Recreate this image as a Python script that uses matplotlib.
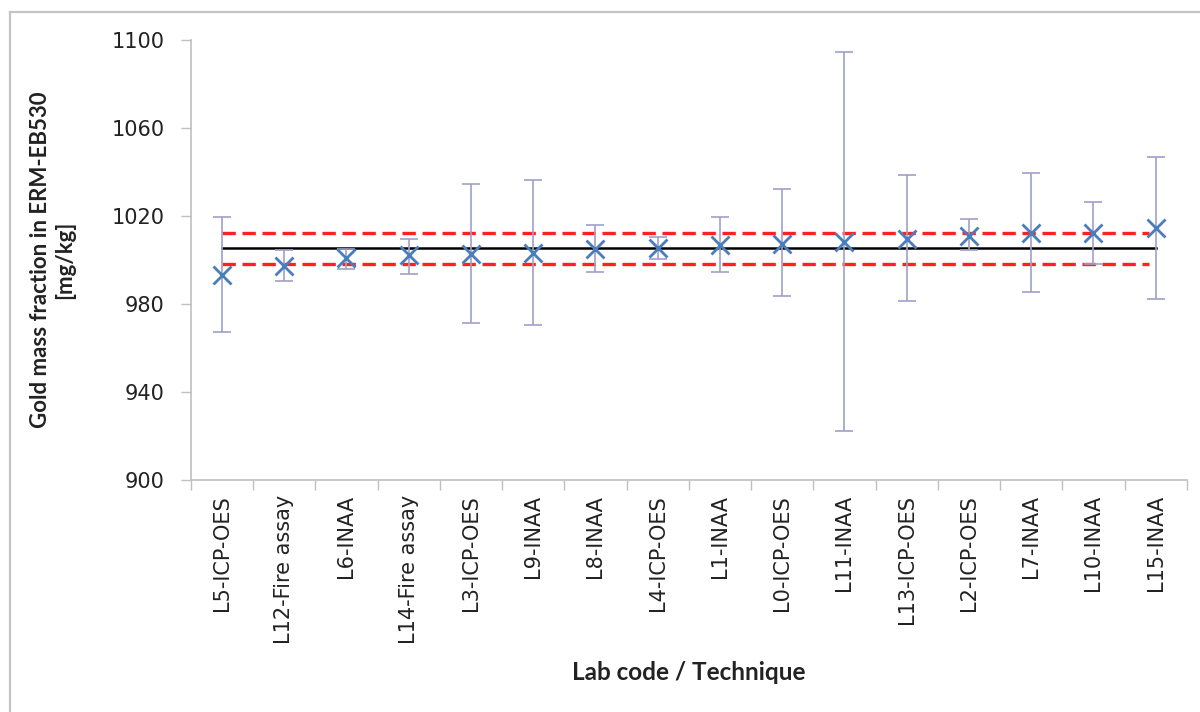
import matplotlib
matplotlib.use("Agg")
import matplotlib.pyplot as plt
from matplotlib.lines import Line2D
import numpy as np

# lab codes and results
labs = ["L5-ICP-OES", "L12-Fire assay", "L6-INAA", "L14-Fire assay", "L3-ICP-OES",
        "L9-INAA", "L8-INAA", "L4-ICP-OES", "L1-INAA", "L0-ICP-OES", "L11-INAA",
        "L13-ICP-OES", "L2-ICP-OES", "L7-INAA", "L10-INAA", "L15-INAA"]
values = [993.2, 997.3, 1001.0, 1002.0, 1002.6, 1003.3, 1004.8, 1005.3,
          1006.8, 1007.3, 1007.9, 1009.4, 1010.9, 1012.1, 1012.4, 1014.4]
upper = [1019.4, 1004.5, 1005.0, 1009.5, 1034.5, 1036.5, 1015.9, 1010.3,
         1019.4, 1032.1, 1094.7, 1038.5, 1018.5, 1039.7, 1026.5, 1046.8]
lower = [967.4, 990.2, 996.0, 993.5, 971.2, 970.5, 994.4, 1000.3,
         994.7, 983.8, 922.0, 981.4, 1004.5, 985.3, 998.0, 982.4]

ref_value = 1005.2
ref_low = 998.3
ref_high = 1012.1

x = np.arange(len(labs))
vals = np.array(values)
yerr = [vals - np.array(lower), np.array(upper) - vals]

fig = plt.figure(figsize=(12, 7.12), dpi=100)
ax = fig.add_axes([0.159, 0.326, 0.83, 0.618])

# outer frame (only left and top visible)
fig.add_artist(Line2D([10/1200, 10/1200], [0, 1 - 12/712], color="#c4c4c4", lw=1.6))
fig.add_artist(Line2D([10/1200, 1], [1 - 12/712, 1 - 12/712], color="#c4c4c4", lw=1.6))

# reference value and uncertainty band
ax.plot([x[0], x[-1]], [ref_value, ref_value], color="black", lw=1.8, zorder=2)
for v in (ref_low, ref_high):
    ax.plot([x[0], x[-1] - 0.1], [v, v], color="#ff2020", lw=2.4, dashes=(4, 2), zorder=3)

ax.errorbar(x, vals, yerr=yerr, fmt="none", ecolor="#a0a0c8", elinewidth=1.2,
            capsize=6.5, capthick=1.2, zorder=4)
ax.plot(x, vals, linestyle="none", marker="x", markersize=13, mew=2,
        color="#4a7ebb", zorder=5)

ax.set_xlim(-0.5, len(labs) - 0.5)
ax.set_ylim(900, 1100)
ax.set_yticks(np.arange(900, 1101, 40))
ax.set_xticks(x)
ax.set_xticklabels(labs, rotation=90, fontsize=15, color="#222222",
                   family="DejaVu Sans")
ax.set_xticks(np.arange(-0.5, len(labs), 1), minor=True)
ax.tick_params(axis="x", which="major", length=0, pad=11)
ax.tick_params(axis="x", which="minor", length=7, color="#bfbfbf", width=1)
ax.tick_params(axis="y", length=7, color="#bfbfbf", width=1, pad=12,
               labelsize=15, labelcolor="#222222")

for s in ("top", "right"):
    ax.spines[s].set_visible(False)
for s in ("left", "bottom"):
    ax.spines[s].set_color("#bfbfbf")
    ax.spines[s].set_linewidth(1.2)

ax.set_ylabel("Gold mass fraction in ERM-EB530\n[mg/kg]", fontsize=16,
              fontweight="bold", family="Lato", labelpad=26, color="#222222")
ax.set_xlabel("Lab code / Technique", fontsize=17.5, fontweight="bold",
              family="Lato", labelpad=12, color="#222222")

fig.savefig("out.png", dpi=100)
